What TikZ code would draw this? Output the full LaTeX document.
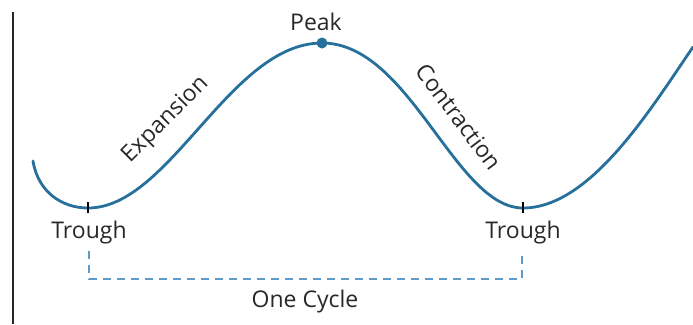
\documentclass[tikz,border=0pt]{standalone}
\usepackage{fontspec}
\setmainfont{Open Sans}
\definecolor{curveblue}{RGB}{38,112,155}
\definecolor{dashblue}{RGB}{95,155,200}
\definecolor{txt}{RGB}{40,40,40}
\tikzset{
  lbl/.style={text=txt,font=\fontsize{23}{27}\selectfont,inner sep=0pt},
  wave/.style={curveblue,line width=2.8pt,line cap=round},
  cyc/.style={dashblue,line width=1.8pt,dash pattern=on 8pt off 6pt},
  tickmark/.style={black,line width=1.3pt}
}
\begin{document}
\begin{tikzpicture}[x=1pt,y=-1pt]
\useasboundingbox (0,0) rectangle (693,324);
\draw[line width=2.8pt,black!85] (13,12) -- (13,324);
\coordinate (s) at (33,161);
\coordinate (t1) at (88,208);
\coordinate (pk) at (322,43);
\coordinate (t2) at (523,208);
\coordinate (e) at (693,47);
\draw[wave] (s) .. controls (38,192) and (62,208) .. (t1)
  .. controls (170,208) and (230,43) .. (pk)
  .. controls (410,43) and (455,208) .. (t2)
  .. controls (590,208) and (650,110) .. (e);
\fill[curveblue] (pk) circle (5.5pt);
\draw[tickmark] ([yshift=-5]t1) -- ([yshift=6]t1);
\draw[tickmark] ([yshift=-5]t2) -- ([yshift=6]t2);
\node[lbl,anchor=base] (pkl) at (316,30) {Peak};
\node[lbl,anchor=base] (tr1) at (89,238) {Trough};
\node[lbl,anchor=base] (tr2) at (523,238) {Trough};
\node[lbl,rotate=45] (exp) at (166,120) {Expansion};
\node[lbl,rotate=-53] (con) at (459,117) {Contraction};
\node[lbl,anchor=base] (oc) at (305,307) {One Cycle};
\coordinate (d1) at (89,251);
\coordinate (d2) at (522,251);
\draw[cyc] (d1) -- (89,279) -- (522,279) -- (d2);
\end{tikzpicture}
\end{document}
